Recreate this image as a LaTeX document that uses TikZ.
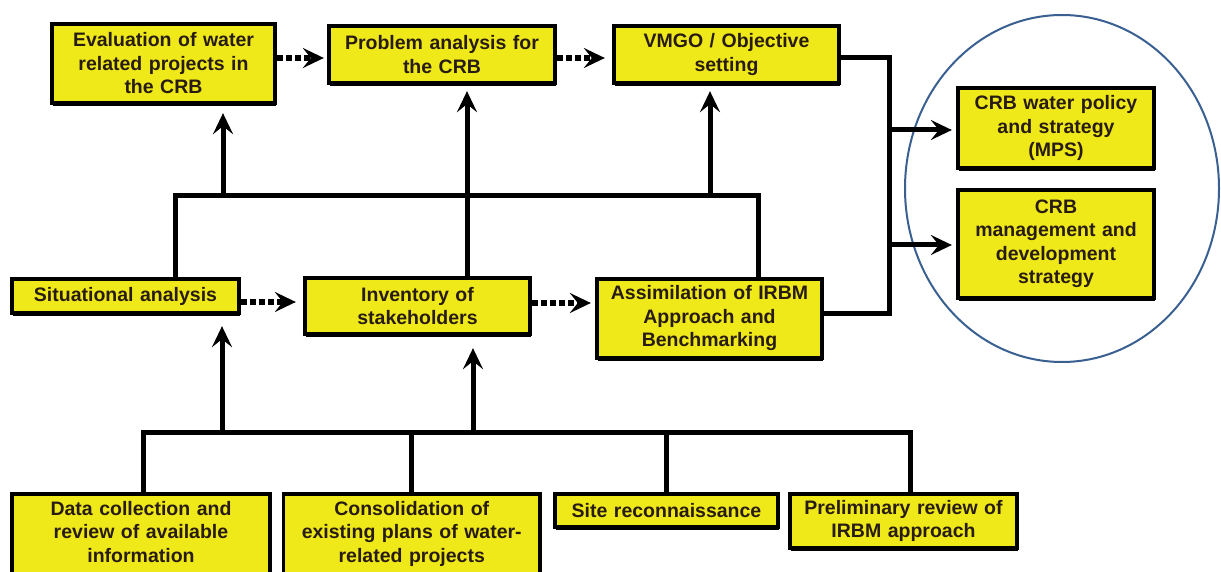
\documentclass[tikz,border=0pt]{standalone}
\usepackage{fontspec}
\setmainfont{Liberation Sans}
\usetikzlibrary{arrows.meta,shadows,shapes.geometric}
\definecolor{boxyellow}{RGB}{240,233,26}
\definecolor{boxtext}{RGB}{40,28,18}
\definecolor{ringblue}{RGB}{58,96,146}
\begin{document}
\begin{tikzpicture}[x=1pt,y=-1pt,
  box/.style={draw=black, line width=3.8pt, fill=boxyellow, text=boxtext,
    font=\fontsize{19.5}{23.5}\selectfont\bfseries, align=center, inner sep=0pt,
    drop shadow={shadow xshift=1pt, shadow yshift=-3pt, fill=black, opacity=1}},
  conn/.style={line width=5pt, line join=miter},
  tip/.style={-{Stealth[length=21pt,width=20pt,inset=8pt]}},
  arr/.style={conn, tip},
  dotarr/.style={line width=6pt, dash pattern=on 6pt off 3pt, tip},
  ring/.style={draw=ringblue, line width=2pt}
]
\useasboundingbox (0,0) rectangle (1221,572);
\clip (0,0) rectangle (1221,572);
\fill[white] (0,0) rectangle (1221,572);

% boxes
\node[box, minimum width=223.5pt, minimum height=79.5pt, text width=215pt] (eval) at (163.5,63.5)
  {Evaluation of water\\related projects in\\the CRB};
\node[box, minimum width=226.5pt, minimum height=57.5pt, text width=218pt] (prob) at (442,54.5)
  {Problem analysis for\\the CRB};
\node[box, minimum width=225.5pt, minimum height=57.5pt, text width=218pt] (vmgo) at (726.5,54.5)
  {VMGO / Objective\\setting};
\node[box, minimum width=196.5pt, minimum height=80.5pt, text width=190pt] (mps) at (1056,128)
  {CRB water policy\\and strategy\\(MPS)};
\node[box, minimum width=196.5pt, minimum height=108.5pt, text width=190pt] (mgmt) at (1056,244)
  {CRB\\management and\\development\\strategy};
\node[box, minimum width=227.5pt, minimum height=34.5pt, text width=220pt] (sit) at (125.5,296)
  {Situational analysis};
\node[box, minimum width=225.5pt, minimum height=56.5pt, text width=218pt] (inv) at (417.5,306)
  {Inventory of\\stakeholders};
\node[box, minimum width=225.5pt, minimum height=79.5pt, text width=218pt] (assim) at (709.5,318.5)
  {Assimilation of IRBM\\Approach and\\Benchmarking};
\node[box, minimum width=258.5pt, text width=250pt, anchor=north, inner ysep=7.5pt,
  text height=14pt, text depth=100pt] (data) at (141,491.75)
  {Data collection and\\review of available\\information};
\node[box, minimum width=256.5pt, text width=248pt, anchor=north, inner ysep=7.5pt,
  text height=14pt, text depth=100pt] (cons) at (411.75,491.75)
  {Consolidation of\\existing plans of water-\\related projects};
\node[box, minimum width=223.5pt, minimum height=33.5pt, text width=216pt] (site) at (666.5,510.5)
  {Site reconnaissance};
\node[box, minimum width=227.5pt, minimum height=54.5pt, text width=220pt] (prel) at (903.5,521)
  {Preliminary review of\\IRBM approach};

% ring round the outputs
\node[ring, ellipse, minimum width=314pt, minimum height=347pt, inner sep=0pt] (ringnode) at (1062,188.5) {};

% bottom bus
\coordinate (bL) at (143,432);
\coordinate (bR) at (910,432);
\coordinate (aS) at (222,432);
\coordinate (aI) at (473,432);
\draw[conn] (bL |- data.north) -- (bL) -- (bR) -- (bR |- prel.north);
\draw[conn] (cons.north) -- (cons.north |- bL);
\draw[conn] (site.north) -- (site.north |- bL);
\draw[arr, shorten >=11pt] (aS) -- (aS |- sit.south);
\draw[arr, shorten >=12pt] (aI) -- (aI |- inv.south);

% middle bus
\coordinate (mL) at (175,196);
\coordinate (mR) at (758,196);
\coordinate (aE) at (223,196);
\coordinate (aV) at (710,196);
\coordinate (aP) at (467,196);
\draw[conn] (mL |- sit.north) -- (mL) -- (mR) -- (mR |- assim.north);
\draw[arr, shorten >=8pt] (aE) -- (aE |- eval.south);
\draw[arr, shorten >=6pt] (aV) -- (aV |- vmgo.south);
\draw[arr, shorten >=6pt] (aP |- inv.north) -- (aP |- prob.south);

% right collector
\coordinate (rT) at (889,58);
\coordinate (rB) at (889,313);
\coordinate (r1) at (889,130);
\coordinate (r2) at (889,245);
\draw[conn] (vmgo.east |- rT) -- (rT) -- (rB) -- (assim.east |- rB);
\draw[arr, shorten >=4pt] (r1) -- (r1 -| mps.west);
\draw[arr, shorten >=4pt] (r2) -- (r2 -| mgmt.west);

% dotted sequence arrows
\coordinate (d1) at (300,58);
\coordinate (d2) at (300,302);
\coordinate (d3) at (560,303);
\draw[dotarr, shorten >=3pt] (eval.east |- d1) -- (prob.west |- d1);
\draw[dotarr, shorten >=7pt] (prob.east |- d1) -- (vmgo.west |- d1);
\draw[dotarr, shorten >=7pt] (sit.east |- d2) -- (inv.west |- d2);
\draw[dotarr, shorten >=4pt] (inv.east |- d3) -- (assim.west |- d3);
\end{tikzpicture}
\end{document}
